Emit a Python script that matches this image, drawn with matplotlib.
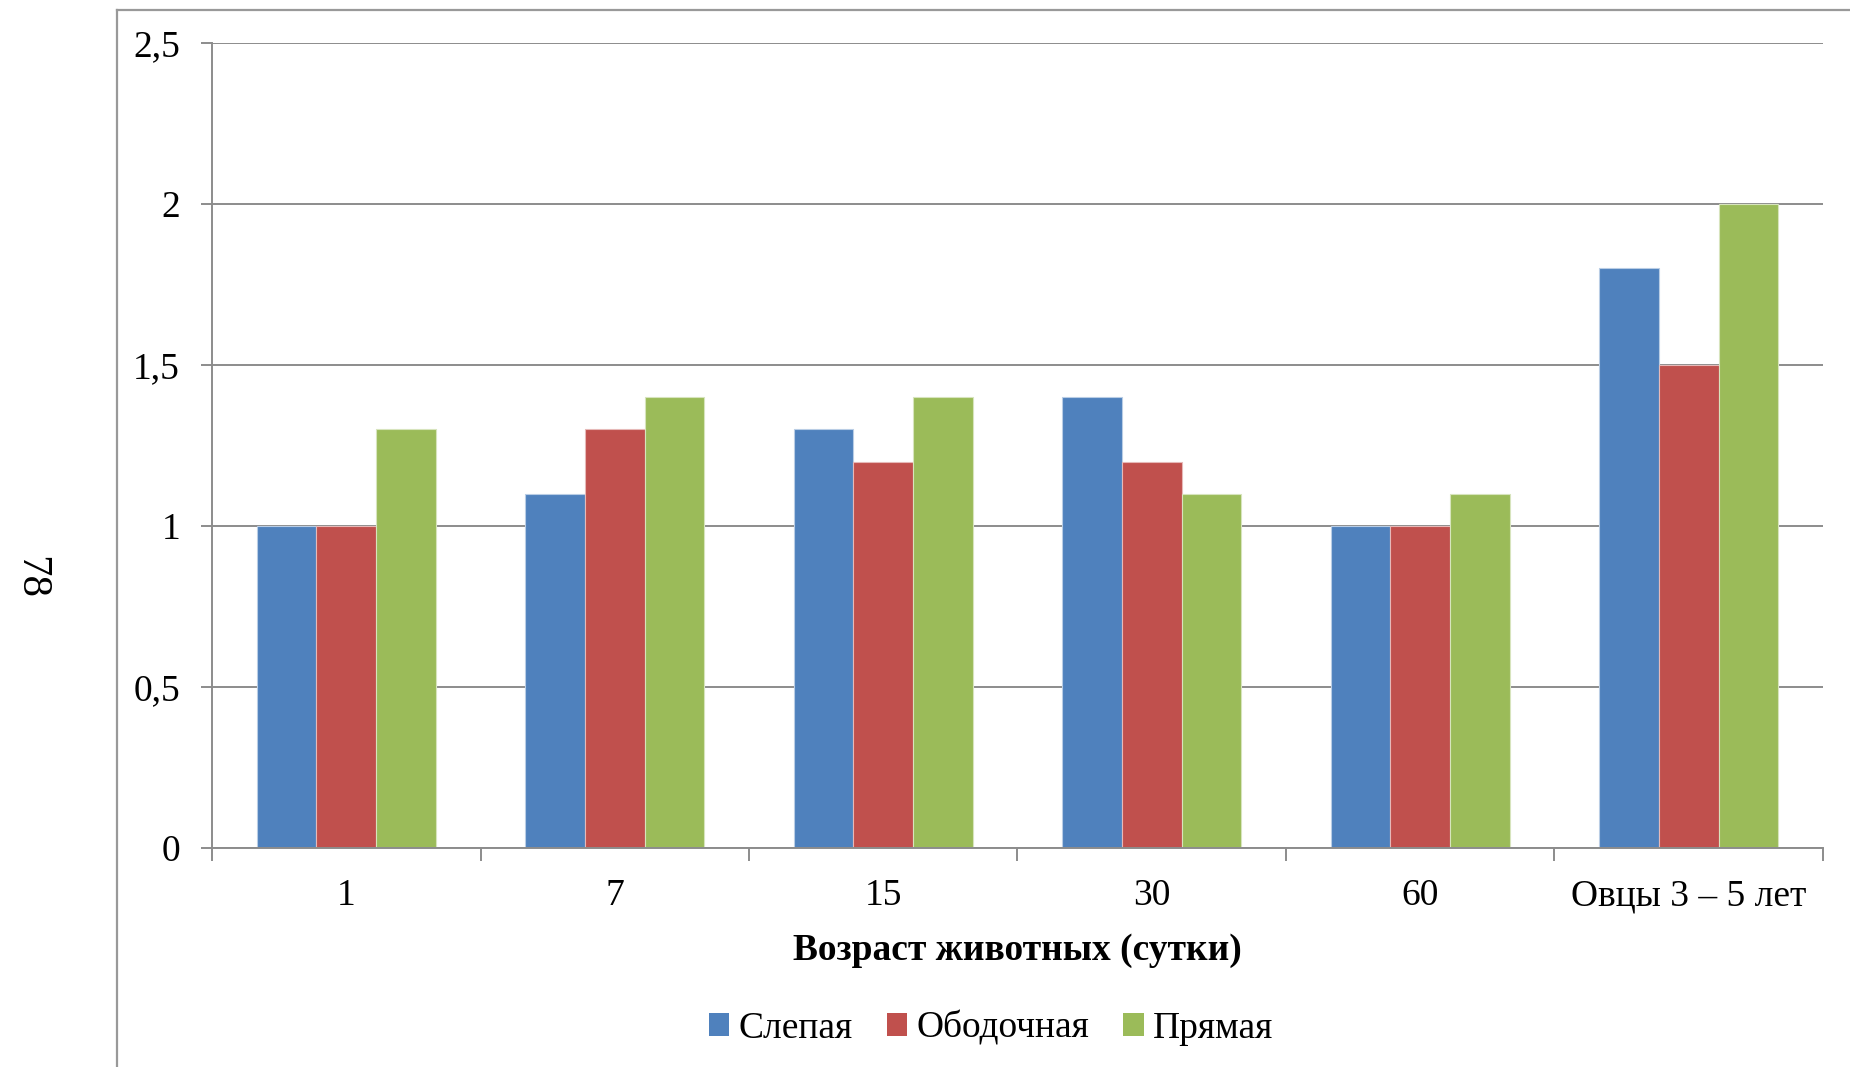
import matplotlib
matplotlib.use("Agg")
import matplotlib.pyplot as plt
from matplotlib.lines import Line2D
from matplotlib.patches import Patch
import numpy as np

categories = ["1", "7", "15", "30", "60", "Овцы 3 – 5 лет"]
series_names = ["Слепая", "Ободочная", "Прямая"]
slepaya = [1.0, 1.1, 1.3, 1.4, 1.0, 1.8]
obodochnaya = [1.0, 1.3, 1.2, 1.2, 1.0, 1.5]
pryamaya = [1.3, 1.4, 1.4, 1.1, 1.1, 2.0]
y_ticks = [0, 0.5, 1, 1.5, 2, 2.5]
y_tick_labels = ["0", "0,5", "1", "1,5", "2", "2,5"]
x_label = "Возраст животных (сутки)"
page_number = "78"

colors = ["#4F81BD", "#C0504D", "#9BBB59"]
edges = ["#B9CDE5", "#E6B9B8", "#D7E4BD"]
grid_c = "#8C8C8C"
FS = 27

plt.rcParams['font.family'] = ['Liberation Serif', 'DejaVu Serif']

fig = plt.figure(figsize=(18.5, 10.67), dpi=100)
ax = fig.add_axes([212/1850, 1-848/1067, (1823-212)/1850, (848-43)/1067])

x = np.arange(len(categories))
w = 0.222
for i, (vals, c, e) in enumerate(zip([slepaya, obodochnaya, pryamaya], colors, edges)):
    ax.bar(x + (i-1)*w, vals, width=w, color=c, edgecolor=e, linewidth=0.8, zorder=3)

ax.set_xlim(-0.5, len(categories)-0.5)
ax.set_ylim(0, 2.5)
ax.set_yticks(y_ticks)
ax.set_yticklabels(y_tick_labels, fontsize=FS)
ax.set_xticks(x)
ax.set_xticklabels(categories, fontsize=FS)
ax.tick_params(axis='x', length=0, pad=22)
ax.set_xticks(np.arange(-0.5, len(categories), 1), minor=True)
ax.tick_params(axis='x', which='minor', length=9, width=1.4, color=grid_c, direction='out')
ax.tick_params(axis='y', length=8, width=1.4, color=grid_c, pad=15)
ax.grid(axis='y', color=grid_c, linewidth=1.4, zorder=0)
ax.set_axisbelow(True)
for s in ['top', 'right']:
    ax.spines[s].set_visible(False)
for s in ['left', 'bottom']:
    ax.spines[s].set_color(grid_c)
    ax.spines[s].set_linewidth(1.4)
ax.spines['bottom'].set_zorder(4)

ax.set_xlabel(x_label, fontsize=FS, fontweight='bold', labelpad=14)

handles = [Patch(facecolor=c, edgecolor='none') for c in colors]
fig.legend(handles, series_names, loc='center', bbox_to_anchor=(991/1850, 1-1028/1067),
           ncol=3, frameon=False, fontsize=FS, handlelength=0.55, handleheight=0.55,
           handletextpad=0.25, columnspacing=0.9)

fig.text(30/1850, 1-578/1067, page_number, rotation=-90, fontsize=31,
         ha='center', va='center')

fig.add_artist(Line2D([117/1850, 117/1850], [0, 1-10/1067], color='#999999', linewidth=1.6))
fig.add_artist(Line2D([117/1850, 1], [1-10/1067, 1-10/1067], color='#999999', linewidth=1.6))

fig.savefig("out.png", dpi=100)
